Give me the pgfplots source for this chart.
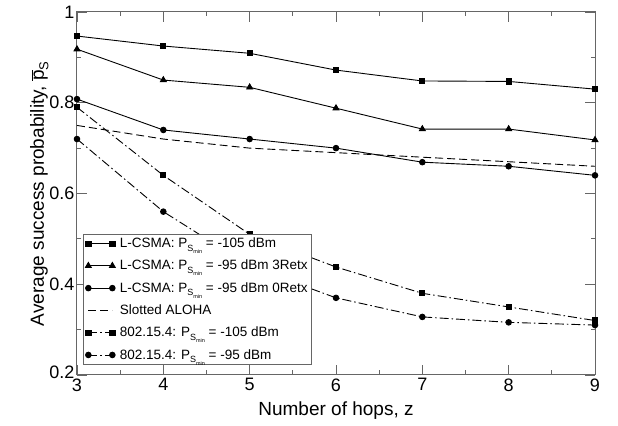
\documentclass[border=0pt]{standalone}
\usepackage{fontspec}
\setmainfont{Liberation Sans}
\usepackage{pgfplots}
\pgfplotsset{compat=1.18}
\newcommand{\Psmin}{P\raisebox{-0.5ex}{\fontsize{9}{9}\selectfont S\raisebox{-0.5ex}{\fontsize{5.5}{5.5}\selectfont min}}}
\begin{document}
\begin{tikzpicture}
\begin{axis}[
  scale only axis, width=518pt, height=363pt,
  xmin=3, xmax=9, ymin=0.2, ymax=1,
  xtick={3,4,...,9}, ytick={0.2,0.4,0.6,0.8,1},
  yticklabels={\raisebox{5pt}{0.2},0.4,0.6,0.8,1},
  minor x tick num=1, minor y tick num=1,
  tick align=inside,
  major tick length=10pt, minor tick length=4.5pt,
  axis line style={black!60, line width=1pt},
  every tick/.style={black!60, line width=0.9pt},
  tick label style={font=\fontsize{18}{18}\selectfont},
  yticklabel style={xshift=1pt},
  /pgf/number format/assume math mode=true,
  label style={font=\fontsize{19}{19}\selectfont},
  xlabel={Number of hops, z},
  ylabel={Average success probability, $\overline{\mbox{p}}_{\mbox{\fontsize{13}{13}\selectfont S}}$},
  xlabel style={yshift=-4pt},
  ylabel style={yshift=-6pt},
  legend cell align=left,
  legend style={at={(0.0116,0.0275)}, anchor=south west, draw=black!60, line width=0.8pt,
    font=\fontsize{13.5}{13.5}\selectfont, row sep=7pt, inner sep=2pt},
  legend image code/.code={\draw[#1, mark repeat=1] plot coordinates {(0pt,0pt) (24pt,0pt)};
    \path (-1pt,0pt) (29pt,0pt);},
  every axis plot/.append style={black, line width=0.9pt, mark size=2.8pt},
]
\addplot[solid, mark=square*, mark size=2.6pt] coordinates {(3,0.947) (4,0.925) (5,0.909) (6,0.872) (7,0.848) (8,0.847) (9,0.830)};
\addlegendentry{L-CSMA: \Psmin{} = -105 dBm}
\addplot[solid, mark=triangle*, mark size=3.4pt] coordinates {(3,0.918) (4,0.850) (5,0.834) (6,0.788) (7,0.742) (8,0.742) (9,0.718)};
\addlegendentry{L-CSMA: \Psmin{} = -95 dBm 3Retx}
\addplot[solid, mark=*] coordinates {(3,0.808) (4,0.740) (5,0.720) (6,0.700) (7,0.669) (8,0.660) (9,0.640)};
\addlegendentry{L-CSMA: \Psmin{} = -95 dBm 0Retx}
\addplot[dash pattern=on 8pt off 4pt, no marks] coordinates {(3,0.750) (4,0.720) (5,0.700) (6,0.690) (7,0.680) (8,0.670) (9,0.660)};
\addlegendentry{Slotted ALOHA}
\addplot[dash pattern=on 9pt off 3pt on 1.5pt off 3pt, mark=square*, mark size=2.6pt, mark options={solid}] coordinates {(3,0.790) (4,0.640) (5,0.510) (6,0.438) (7,0.380) (8,0.350) (9,0.320)};
\addlegendentry{802.15.4: \Psmin{} = -105 dBm}
\addplot[dash pattern=on 9pt off 3pt on 1.5pt off 3pt, mark=*, mark options={solid}] coordinates {(3,0.720) (4,0.560) (5,0.440) (6,0.370) (7,0.328) (8,0.316) (9,0.310)};
\addlegendentry{802.15.4: \Psmin{} = -95 dBm}
\end{axis}
\useasboundingbox (current axis.south west) ++(-77pt,-51pt) rectangle ([xshift=23pt,yshift=12pt]current axis.north east);
\end{tikzpicture}
\end{document}
